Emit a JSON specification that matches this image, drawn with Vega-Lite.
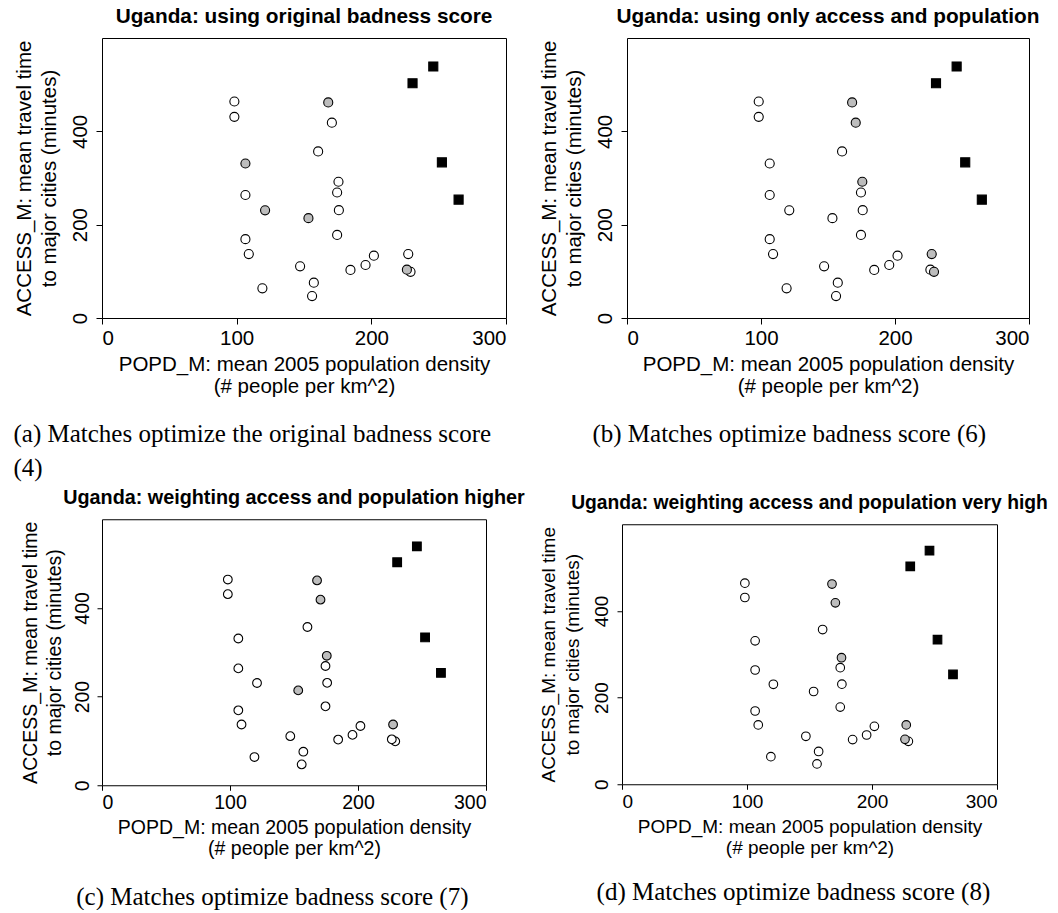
{
  "$schema": "https://vega.github.io/schema/vega-lite/v6.json",
  "background": "white",
  "padding": {"left": 13, "top": 5, "right": 0, "bottom": 0},
  "spacing": 6,
  "config": {
    "view": {"stroke": "black", "strokeWidth": 1},
    "axis": {"domain": false, "grid": false, "tickColor": "black", "labelColor": "black", "titleColor": "black", "labelFont": "Liberation Sans", "titleFont": "Liberation Sans", "titleFontWeight": "normal"},
    "title": {"color": "black"}
  },
  "datasets": {
    "pts": [
      {"popd": 98.3, "access": 464, "a": "control", "b": "control", "c": "control", "d": "control"},
      {"popd": 98.3, "access": 431, "a": "control", "b": "control", "c": "control", "d": "control"},
      {"popd": 170.7, "access": 418.6, "a": "control", "b": "matched", "c": "matched", "d": "matched"},
      {"popd": 160.5, "access": 357, "a": "control", "b": "control", "c": "control", "d": "control"},
      {"popd": 106.5, "access": 263.6, "a": "control", "b": "control", "c": "control", "d": "control"},
      {"popd": 175.6, "access": 292, "a": "control", "b": "matched", "c": "matched", "d": "matched"},
      {"popd": 174.6, "access": 269, "a": "control", "b": "control", "c": "control", "d": "control"},
      {"popd": 175.9, "access": 231, "a": "control", "b": "control", "c": "control", "d": "control"},
      {"popd": 174.6, "access": 178, "a": "control", "b": "control", "c": "control", "d": "control"},
      {"popd": 106.5, "access": 169, "a": "control", "b": "control", "c": "control", "d": "control"},
      {"popd": 109, "access": 137, "a": "control", "b": "control", "c": "control", "d": "control"},
      {"popd": 119.1, "access": 63.6, "a": "control", "b": "control", "c": "control", "d": "control"},
      {"popd": 147.1, "access": 110.7, "a": "control", "b": "control", "c": "control", "d": "control"},
      {"popd": 157.3, "access": 75.7, "a": "control", "b": "control", "c": "control", "d": "control"},
      {"popd": 156, "access": 47, "a": "control", "b": "control", "c": "control", "d": "control"},
      {"popd": 184.5, "access": 103, "a": "control", "b": "control", "c": "control", "d": "control"},
      {"popd": 195.7, "access": 113.6, "a": "control", "b": "control", "c": "control", "d": "control"},
      {"popd": 201.9, "access": 133.6, "a": "control", "b": "control", "c": "control", "d": "control"},
      {"popd": 227.4, "access": 137, "a": "control", "b": "matched", "c": "matched", "d": "matched"},
      {"popd": 229.1, "access": 99, "a": "control", "b": "matched", "c": "control", "d": "control"},
      {"popd": 168, "access": 462, "a": "matched", "b": "matched", "c": "matched", "d": "matched"},
      {"popd": 106.5, "access": 331, "a": "matched", "b": "control", "c": "control", "d": "control"},
      {"popd": 121.1, "access": 230.7, "a": "matched", "b": "control", "c": "control", "d": "control"},
      {"popd": 153.3, "access": 214, "a": "matched", "b": "control", "c": "matched", "d": "control"},
      {"popd": 226.4, "access": 103.6, "a": "matched", "b": "control", "c": "control", "d": "matched"},
      {"popd": 230.6, "access": 503, "a": "treated", "b": "treated", "c": "treated", "d": "treated"},
      {"popd": 246, "access": 539, "a": "treated", "b": "treated", "c": "treated", "d": "treated"},
      {"popd": 252.4, "access": 333.6, "a": "treated", "b": "treated", "c": "treated", "d": "treated"},
      {"popd": 264.8, "access": 253.6, "a": "treated", "b": "treated", "c": "treated", "d": "treated"}
    ]
  },
  "vconcat": [
    {
      "spacing": 31,
      "hconcat": [
        {
          "title": {"text": ["(a) Matches optimize the original badness score", "(4)"], "orient": "bottom", "anchor": "start", "font": "Liberation Serif", "fontSize": 25, "fontWeight": "normal", "lineHeight": 34, "offset": 24},
          "vconcat": [
            {
              "data": {"name": "pts"},
              "title": {"text": "Uganda: using original badness score", "anchor": "middle", "frame": "group", "font": "Liberation Sans", "fontSize": 20.8, "fontWeight": "bold", "offset": 10.5},
              "width": 404, "height": 280,
              "mark": {"type": "point", "filled": true, "stroke": "black", "strokeWidth": 1.1, "opacity": 1, "size": 82},
              "encoding": {
                "x": {"field": "popd", "type": "quantitative", "scale": {"domain": [0, 300], "nice": false, "zero": false}, "axis": {"values": [0, 100, 200, 300], "tickSize": 6, "labelFontSize": 20.5, "labelPadding": 4, "title": ["POPD_M: mean 2005 population density", "(# people per km^2)"], "titleFontSize": 20.5, "titleLineHeight": 22, "titlePadding": 6}},
                "y": {"field": "access", "type": "quantitative", "scale": {"domain": [0, 600], "nice": false}, "axis": {"values": [0, 200, 400], "tickSize": 6, "labelFontSize": 20.5, "labelAngle": -90, "labelAlign": "center", "labelBaseline": "bottom", "labelPadding": 6, "title": ["ACCESS_M: mean travel time", "to major cities (minutes)"], "titleFontSize": 20.5, "titleLineHeight": 25, "titlePadding": 11}},
                "fill": {"field": "a", "type": "nominal", "scale": {"domain": ["control", "matched", "treated"], "range": ["white", "#bdbdbd", "black"]}, "legend": null},
                "shape": {"field": "a", "type": "nominal", "scale": {"domain": ["control", "matched", "treated"], "range": ["circle", "circle", "square"]}, "legend": null},
                "order": {"field": "a", "sort": "ascending"}
              }
            }
          ]
        },
        {
          "title": {"text": "(b) Matches optimize badness score (6)", "orient": "bottom", "anchor": "middle", "font": "Liberation Serif", "fontSize": 25, "fontWeight": "normal", "lineHeight": 33, "offset": 24},
          "vconcat": [
            {
              "data": {"name": "pts"},
              "title": {"text": "Uganda: using only access and population", "anchor": "middle", "frame": "group", "font": "Liberation Sans", "fontSize": 20.8, "fontWeight": "bold", "offset": 10.5},
              "width": 402, "height": 280,
              "mark": {"type": "point", "filled": true, "stroke": "black", "strokeWidth": 1.1, "opacity": 1, "size": 82},
              "encoding": {
                "x": {"field": "popd", "type": "quantitative", "scale": {"domain": [0, 300], "nice": false, "zero": false}, "axis": {"values": [0, 100, 200, 300], "tickSize": 6, "labelFontSize": 20.5, "labelPadding": 4, "title": ["POPD_M: mean 2005 population density", "(# people per km^2)"], "titleFontSize": 20.5, "titleLineHeight": 22, "titlePadding": 6}},
                "y": {"field": "access", "type": "quantitative", "scale": {"domain": [0, 600], "nice": false}, "axis": {"values": [0, 200, 400], "tickSize": 6, "labelFontSize": 20.5, "labelAngle": -90, "labelAlign": "center", "labelBaseline": "bottom", "labelPadding": 6, "title": ["ACCESS_M: mean travel time", "to major cities (minutes)"], "titleFontSize": 20.5, "titleLineHeight": 25, "titlePadding": 11}},
                "fill": {"field": "b", "type": "nominal", "scale": {"domain": ["control", "matched", "treated"], "range": ["white", "#bdbdbd", "black"]}, "legend": null},
                "shape": {"field": "b", "type": "nominal", "scale": {"domain": ["control", "matched", "treated"], "range": ["circle", "circle", "square"]}, "legend": null},
                "order": {"field": "b", "sort": "ascending"}
              }
            }
          ]
        }
      ]
    },
    {
      "spacing": 12,
      "center": true,
      "hconcat": [
        {
          "title": {"text": "(c) Matches optimize badness score (7)", "orient": "bottom", "anchor": "middle", "font": "Liberation Serif", "fontSize": 25, "fontWeight": "normal", "lineHeight": 33, "offset": 26},
          "vconcat": [
            {
              "data": {"name": "pts"},
              "title": {"text": "Uganda: weighting access and population higher", "anchor": "middle", "frame": "group", "font": "Liberation Sans", "fontSize": 19.8, "fontWeight": "bold", "offset": 11},
              "width": 384, "height": 266,
              "mark": {"type": "point", "filled": true, "stroke": "black", "strokeWidth": 1.1, "opacity": 1, "size": 76},
              "encoding": {
                "x": {"field": "popd", "type": "quantitative", "scale": {"domain": [0, 300], "nice": false, "zero": false}, "axis": {"values": [0, 100, 200, 300], "tickSize": 5, "labelFontSize": 19.5, "labelPadding": 3, "title": ["POPD_M: mean 2005 population density", "(# people per km^2)"], "titleFontSize": 19.5, "titleLineHeight": 21, "titlePadding": 7}},
                "y": {"field": "access", "type": "quantitative", "scale": {"domain": [0, 600], "nice": false}, "axis": {"values": [0, 200, 400], "tickSize": 5, "labelFontSize": 19.5, "labelAngle": -90, "labelAlign": "center", "labelBaseline": "bottom", "labelPadding": 5, "title": ["ACCESS_M: mean travel time", "to major cities (minutes)"], "titleFontSize": 19.5, "titleLineHeight": 24, "titlePadding": 8}},
                "fill": {"field": "c", "type": "nominal", "scale": {"domain": ["control", "matched", "treated"], "range": ["white", "#bdbdbd", "black"]}, "legend": null},
                "shape": {"field": "c", "type": "nominal", "scale": {"domain": ["control", "matched", "treated"], "range": ["circle", "circle", "square"]}, "legend": null},
                "order": {"field": "c", "sort": "ascending"}
              }
            }
          ]
        },
        {
          "title": {"text": "(d) Matches optimize badness score (8)", "orient": "bottom", "anchor": "middle", "font": "Liberation Serif", "fontSize": 25, "fontWeight": "normal", "lineHeight": 33, "offset": 22},
          "vconcat": [
            {
              "data": {"name": "pts"},
              "title": {"text": "Uganda: weighting access and population very high", "anchor": "middle", "frame": "group", "font": "Liberation Sans", "fontSize": 19.3, "fontWeight": "bold", "offset": 11},
              "width": 375, "height": 260,
              "mark": {"type": "point", "filled": true, "stroke": "black", "strokeWidth": 1.1, "opacity": 1, "size": 74},
              "encoding": {
                "x": {"field": "popd", "type": "quantitative", "scale": {"domain": [0, 300], "nice": false, "zero": false}, "axis": {"values": [0, 100, 200, 300], "tickSize": 5, "labelFontSize": 19, "labelPadding": 3, "title": ["POPD_M: mean 2005 population density", "(# people per km^2)"], "titleFontSize": 19, "titleLineHeight": 21, "titlePadding": 6}},
                "y": {"field": "access", "type": "quantitative", "scale": {"domain": [0, 600], "nice": false}, "axis": {"values": [0, 200, 400], "tickSize": 5, "labelFontSize": 19, "labelAngle": -90, "labelAlign": "center", "labelBaseline": "bottom", "labelPadding": 6, "title": ["ACCESS_M: mean travel time", "to major cities (minutes)"], "titleFontSize": 19, "titleLineHeight": 24, "titlePadding": 10}},
                "fill": {"field": "d", "type": "nominal", "scale": {"domain": ["control", "matched", "treated"], "range": ["white", "#bdbdbd", "black"]}, "legend": null},
                "shape": {"field": "d", "type": "nominal", "scale": {"domain": ["control", "matched", "treated"], "range": ["circle", "circle", "square"]}, "legend": null},
                "order": {"field": "d", "sort": "ascending"}
              }
            }
          ]
        }
      ]
    }
  ]
}
